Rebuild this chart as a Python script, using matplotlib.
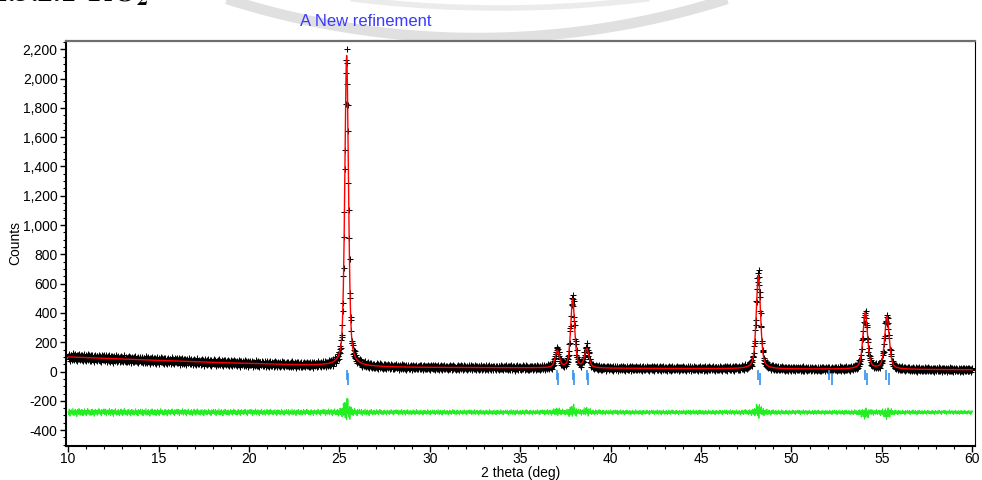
import numpy as np
import matplotlib
matplotlib.use("Agg")
import matplotlib.pyplot as plt
from matplotlib.ticker import MultipleLocator, FuncFormatter

# background level (2theta, counts)
bg_tth = [10, 12, 14, 16, 18, 20, 22, 24, 26, 28, 30, 35, 40, 45, 50, 55, 60]
bg_counts = [100, 90, 80, 72, 62, 55, 48, 42, 36, 30, 28, 25, 22, 20, 17, 15, 12]

# reflections: position, calculated / observed height above background, fwhm
peak_pos = [25.40, 37.05, 37.90, 38.68, 48.17, 54.08, 55.28]
calc_height = [2120, 115, 470, 130, 640, 385, 360]
obs_height = [2150, 122, 482, 138, 655, 372, 352]
peak_fwhm = [0.24, 0.28, 0.26, 0.28, 0.28, 0.30, 0.30]

# reflection tick marks (K-alpha1 / K-alpha2)
ticks_a1 = [25.40, 37.02, 37.90, 38.68, 48.13, 52.10, 54.06, 55.25]
ticks_a2 = [25.46, 37.11, 37.99, 38.77, 48.25, 52.24, 54.19, 55.38]

# scatter of the observed points around the fit (in sigma units, read by eye)
scatter = [0.3, -1.1, 0.8, 1.6, -0.4, -1.9, 0.2, 0.9, -0.7, 1.2, -0.1, -1.4, 0.6, 2.0,
           -0.9, 0.4, -1.6, 1.1, 0.0, -0.5, 1.5, -1.2, 0.7, -0.2, -2.1, 0.9, 1.3, -0.8,
           0.1, -1.0, 1.8, -0.3, 0.5, -1.5, 0.2, 1.0, -0.6, -1.3, 1.4, 0.4, -0.1, -1.8,
           0.8, 0.3, -0.9, 1.7, -0.4, -1.1, 0.6, 1.1, -1.7, 0.0, 0.9, -0.5, 1.9, -1.0,
           0.2, -0.7, 1.2, -1.4, 0.5, 0.7, -0.2, -1.6, 1.3, -0.8, 0.4, 1.6, -1.2, -0.3,
           0.1, 1.0, -2.0, 0.8, -0.6, 1.5, 0.3, -1.1, -0.4, 0.9, 1.2, -1.5, 0.6, -0.1,
           -0.9, 1.8, -0.7, 0.2, 1.1, -1.3, 0.0, 0.7, -1.9, 1.4, -0.5, 0.4, -0.8, 1.0,
           -0.2, 1.7, -1.0]

diff_offset = -278


def pseudo_voigt(x, x0, w, eta=0.5):
    u = (x - x0) / w
    return eta / (1 + 4 * u ** 2) + (1 - eta) * np.exp(-4 * np.log(2) * u ** 2)


tth = np.arange(10, 60.0001, 0.02)
bg = np.interp(tth, bg_tth, bg_counts)
calc = bg.copy()
obs = bg.copy()
for p, hc, ho, w in zip(peak_pos, calc_height, obs_height, peak_fwhm):
    calc += hc * pseudo_voigt(tth, p, w)
    obs += ho * pseudo_voigt(tth, p, w)
obs += np.resize(scatter, tth.size) * (np.sqrt(obs) + 4)
diff = obs - calc + diff_offset

narrow = ["Liberation Sans Narrow", "Liberation Sans", "DejaVu Sans"]

fig = plt.figure(figsize=(9.82, 4.8), dpi=100)

# page background: watermark arc and cut-off section heading
bg_ax = fig.add_axes([0, 0, 1, 1], zorder=-1)
bg_ax.set_xlim(0, 982)
bg_ax.set_ylim(480, 0)
bg_ax.axis("off")
t = np.linspace(0, 2 * np.pi, 720)
bg_ax.plot(477 + 822 * np.cos(t), -784 + 822 * np.sin(t), color="#e0e0e0", lw=7.5, solid_capstyle="butt")
bg_ax.plot(500 + 1200 * np.cos(t), -1192 + 1200 * np.sin(t), color="#ebebeb", lw=4)
plt.rcParams["mathtext.fontset"] = "stix"
bg_ax.text(-8, 2, r"$\mathbf{2.3.2.1\ TiO_2}$", fontsize=22, color="black", va="baseline", ha="left")

ax = fig.add_axes([66 / 982, 1 - 445.5 / 480, (975 - 66) / 982, (445.5 - 40.5) / 480])

ax.plot(tth, obs, linestyle="none", marker="+", color="black", markersize=4, mew=0.75, zorder=2)
ax.plot(tth, calc, color="red", lw=1.0, zorder=3)
ax.plot(tth, diff, color="#22ee22", lw=0.7, zorder=3)
ax.vlines(ticks_a1, -60, 8, color="#3392f2", lw=1.2, zorder=3)
ax.vlines(ticks_a2, -90, -12, color="#3392f2", lw=1.2, zorder=3)

ax.set_xlim(9.88, 60.15)
ax.set_ylim(-505, 2260)
ax.xaxis.set_major_locator(MultipleLocator(5))
ax.xaxis.set_minor_locator(MultipleLocator(1))
ax.yaxis.set_major_locator(MultipleLocator(200))
ax.yaxis.set_minor_locator(MultipleLocator(50))
ax.yaxis.set_major_formatter(FuncFormatter(lambda v, pos: "{:,.0f}".format(v)))
ax.tick_params(which="major", direction="out", length=4, width=1, labelsize=10)
ax.tick_params(axis="x", which="major", pad=1)
ax.tick_params(axis="y", which="major", pad=2)
ax.tick_params(which="minor", direction="out", length=2, width=0.8)
for lab in ax.get_xticklabels() + ax.get_yticklabels():
    lab.set_family(narrow)

for side in ["left", "bottom"]:
    ax.spines[side].set_linewidth(1.5)
ax.spines["right"].set_linewidth(0.8)
ax.spines["top"].set_linewidth(1.6)
ax.spines["top"].set_color("#6e6e6e")

ax.set_xlabel("2 theta (deg)", fontsize=10, family=narrow, labelpad=0)
ax.set_ylabel("Counts", fontsize=10, family=narrow, labelpad=0)

fig.text(366 / 982, 1 - 22 / 480, "A New refinement", ha="center", va="center",
         color="#3a3aff", fontsize=12, family=narrow)

fig.savefig("out.png", dpi=100)
